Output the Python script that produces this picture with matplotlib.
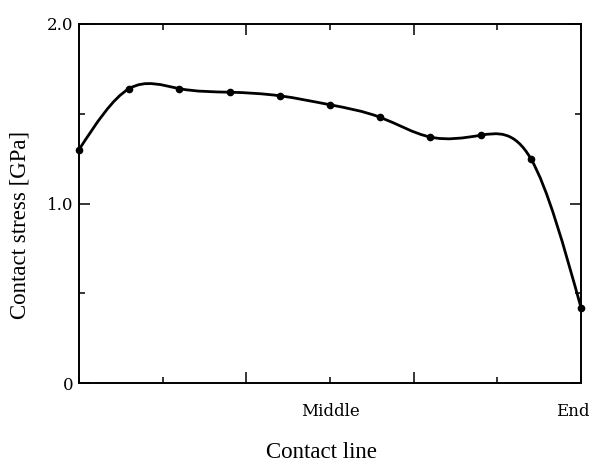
import numpy as np
import matplotlib
matplotlib.use("Agg")
import matplotlib.pyplot as plt
from matplotlib.path import Path
from matplotlib.patches import PathPatch
from matplotlib.ticker import MultipleLocator

# ===== DATA =====
positions = [0.0, 0.1, 0.2, 0.3, 0.4, 0.5, 0.6, 0.7, 0.8, 0.9, 1.0]   # along contact line
stress = [1.30, 1.64, 1.64, 1.62, 1.60, 1.55, 1.48, 1.37, 1.38, 1.25, 0.42]  # GPa
ytick_vals = [0, 1.0, 2.0]
ytick_text = ["0", "1.0", "2.0"]
xmarks = [0.5, 1.0]
xmark_text = ["Middle", "End"]

x = np.array(positions)
y = np.array(stress)

# ===== smooth curve (natural cubic spline drawn as bezier segments) =====
n = len(x) - 1
h = x[1] - x[0]
A = np.zeros((n + 1, n + 1))
b = np.zeros(n + 1)
A[0, 0] = A[n, n] = 1.0
for i in range(1, n):
    A[i, i - 1], A[i, i], A[i, i + 1] = 1.0, 4.0, 1.0
    b[i] = 6.0 / h**2 * (y[i + 1] - 2 * y[i] + y[i - 1])
M = np.linalg.solve(A, b)
slope = np.empty(n + 1)
for i in range(n):
    slope[i] = (y[i + 1] - y[i]) / h - h * (2 * M[i] + M[i + 1]) / 6
slope[n] = (y[n] - y[n - 1]) / h + h * (M[n - 1] + 2 * M[n]) / 6

verts = [(x[0], y[0])]
codes = [Path.MOVETO]
for i in range(n):
    verts += [(x[i] + h / 3, y[i] + slope[i] * h / 3),
              (x[i + 1] - h / 3, y[i + 1] - slope[i + 1] * h / 3),
              (x[i + 1], y[i + 1])]
    codes += [Path.CURVE4] * 3

# ===== PLOT =====
fig = plt.figure(figsize=(5.92, 4.66), dpi=100)
ax = fig.add_axes([79 / 592, 1 - 383 / 466, 502 / 592, 359 / 466])

ax.add_patch(PathPatch(Path(verts, codes), facecolor="none", edgecolor="black",
                       lw=2.0, clip_on=False, zorder=3))
ax.plot(x, y, "o", color="black", ms=4.5, clip_on=False, zorder=4)

ax.set_xlim(0, 1)
ax.set_ylim(0, 2.0)

for s in ax.spines.values():
    s.set_linewidth(1.4)

tick_font = dict(family="DejaVu Serif", size=12)
ax.set_yticks(ytick_vals)
ax.set_yticklabels(ytick_text, fontdict=tick_font)
ax.yaxis.set_minor_locator(MultipleLocator(0.5))
ax.set_xticks([1 / 3, 2 / 3])
ax.set_xticklabels([])
ax.xaxis.set_minor_locator(MultipleLocator(1 / 6))
ax.tick_params(which="major", direction="in", length=8, width=1.1, pad=4,
               top=True, right=True)
ax.tick_params(which="minor", direction="in", length=4.5, width=1.1,
               top=True, right=True)

for xm, lab in zip(xmarks, xmark_text):
    ax.text(xm - (0.017 if lab == "End" else 0), -0.16, lab, ha="center", va="center",
            fontfamily="DejaVu Serif", fontsize=12)

fig.text(321 / 592, 1 - 453 / 466, "Contact line", ha="center", va="center",
         fontfamily="Liberation Serif", fontsize=16.5)
fig.text(20 / 592, 1 - 225 / 466, "Contact stress [GPa]", ha="center", va="center",
         rotation=90, fontfamily="Liberation Serif", fontsize=16.5)

fig.savefig("out.png", dpi=100)
